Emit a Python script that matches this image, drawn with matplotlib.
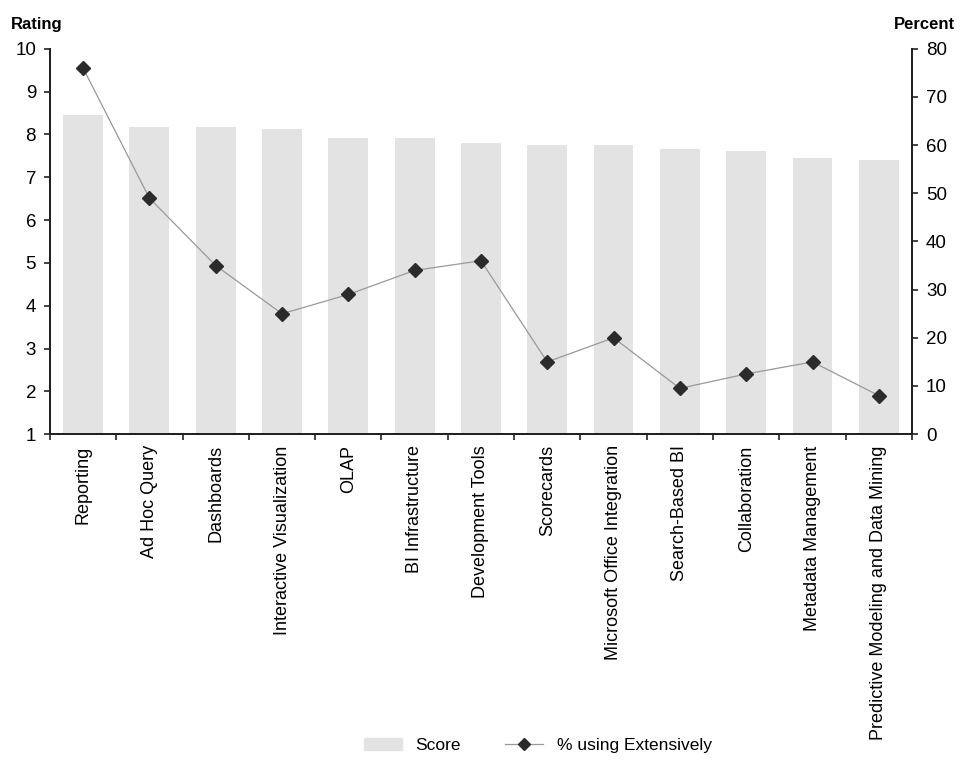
import numpy as np
import matplotlib.pyplot as plt
from matplotlib.lines import Line2D
from matplotlib.patches import Patch

plt.rcParams['font.family'] = ['Liberation Sans', 'DejaVu Sans']

# BI capability ratings and share of users relying on them
features = ['Reporting', 'Ad Hoc Query', 'Dashboards', 'Interactive Visualization',
            'OLAP', 'BI Infrastructure', 'Development Tools', 'Scorecards',
            'Microsoft Office Integration', 'Search-Based BI', 'Collaboration',
            'Metadata Management', 'Predictive Modeling and Data Mining']
score = [8.46, 8.18, 8.18, 8.13, 7.92, 7.92, 7.80, 7.76, 7.76, 7.66, 7.62, 7.45, 7.40]
pct_extensive = [76, 49, 35, 25, 29, 34, 36, 15, 20, 9.5, 12.5, 15, 8]

x = np.arange(len(features))

fig = plt.figure(figsize=(9.6, 7.63), dpi=100)
ax = fig.add_axes([0.052, 0.431, 0.898, 0.505])
ax2 = ax.twinx()

ax.bar(x, np.array(score) - 1, bottom=1, width=0.6, color='#e3e3e3')
ax.set_ylim(1, 10)
ax.set_xlim(-0.5, len(features) - 0.5)
ax.set_yticks(range(1, 11))

ax2.plot(x, pct_extensive, color='#999999', lw=0.9, marker='D', ms=7,
         mfc='#2b2b2b', mec='#2b2b2b')
ax2.set_ylim(0, 80)
ax2.set_yticks(range(0, 81, 10))

# category labels at centres, tick marks at the boundaries
ax.set_xticks(x)
ax.set_xticklabels(features, rotation=90, fontsize=13)
ax.tick_params(axis='x', which='major', length=0, pad=8)
ax.set_xticks(np.arange(-0.5, len(features)), minor=True)
ax.tick_params(axis='x', which='minor', length=4, width=1.2, color='#222222')

for a in (ax, ax2):
    a.spines['top'].set_visible(False)
    for s in a.spines.values():
        s.set_linewidth(1.4)
        s.set_color('#222222')
    a.tick_params(axis='y', labelsize=13.5, length=4, width=1.2, color='#222222', pad=6)

ax.set_zorder(ax2.get_zorder() - 1)
ax2.patch.set_visible(False)

fig.text(0.011, 0.968, 'Rating', fontsize=12, fontweight='bold', ha='left', va='center')
fig.text(0.995, 0.968, 'Percent', fontsize=12, fontweight='bold', ha='right', va='center')

handles = [Patch(color='#e3e3e3', label='Score'),
           Line2D([], [], color='#999999', lw=0.9, marker='D', ms=6,
                  mfc='#2b2b2b', mec='#2b2b2b', label='% using Extensively')]
fig.legend(handles=handles, loc='center', bbox_to_anchor=(0.56, 0.023), ncol=2,
           frameon=False, fontsize=12.5, handlelength=2.2, columnspacing=2.5)

fig.savefig('out.png', dpi=100)
